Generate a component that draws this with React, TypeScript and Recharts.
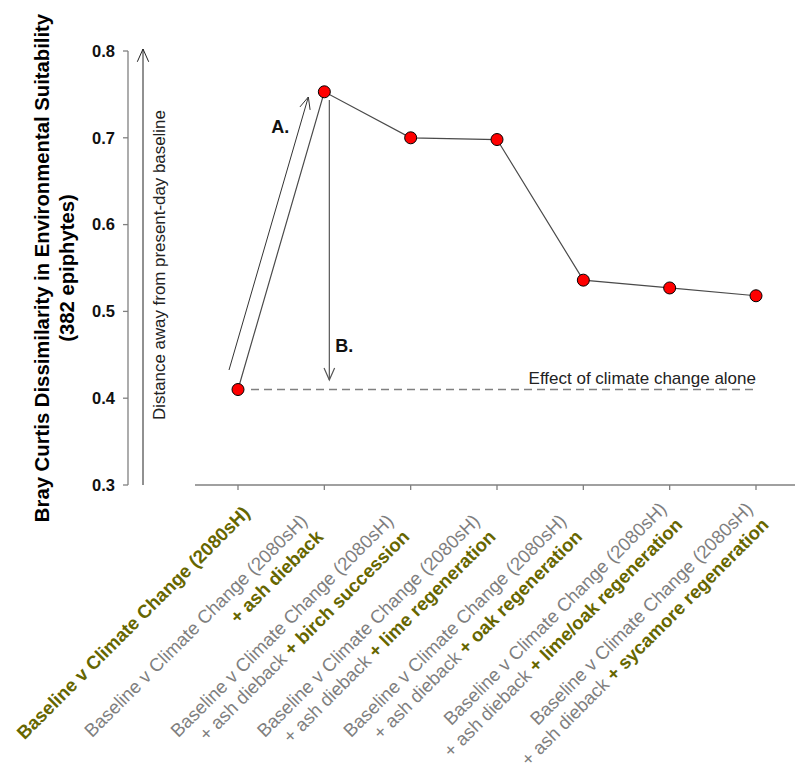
import React from "react";
import { LineChart, Line, XAxis, YAxis, ReferenceLine } from "recharts";

const categories = [
  "Baseline v Climate Change (2080sH)",
  "Baseline v Climate Change (2080sH) + ash dieback",
  "Baseline v Climate Change (2080sH) + ash dieback + birch succession",
  "Baseline v Climate Change (2080sH) + ash dieback + lime regeneration",
  "Baseline v Climate Change (2080sH) + ash dieback + oak regeneration",
  "Baseline v Climate Change (2080sH) + ash dieback + lime/oak regeneration",
  "Baseline v Climate Change (2080sH) + ash dieback + sycamore regeneration",
];
const dissimilarity = [0.41, 0.753, 0.7, 0.698, 0.536, 0.527, 0.518];
const baseLabel = "Baseline v Climate Change (2080sH)";
const ashLabel = "+ ash dieback";
const treatmentLabels = [
  "",
  "",
  "+ birch succession",
  "+ lime regeneration",
  "+ oak regeneration",
  "+ lime/oak regeneration",
  "+ sycamore regeneration",
];
const yTicks = [0.3, 0.4, 0.5, 0.6, 0.7, 0.8];
const arrowA = [0.4325, 0.747];
const arrowB = [0.7435, 0.421];

const data = categories.map((c, i) => ({ category: c, value: dissimilarity[i] }));

const FONT = "'Liberation Sans', Arial, sans-serif";
const GREY = "#7f7f7f";
const OLIVE = "#666600";
const PAD_AXIS = "a";
const MAIN_AXIS = "b";

function arrowHead(tx: number, ty: number, fx: number, fy: number, len = 14, ang = 24) {
  const dx = tx - fx;
  const dy = ty - fy;
  const d = Math.hypot(dx, dy);
  const ux = dx / d;
  const uy = dy / d;
  const a = (ang * Math.PI) / 180;
  const r = (s: number) => {
    const c = Math.cos(s * a);
    const sn = Math.sin(s * a);
    const rx = ux * c - uy * sn;
    const ry = ux * sn + uy * c;
    return `${tx - rx * len},${ty - ry * len}`;
  };
  return `${r(1)} ${tx},${ty} ${r(-1)}`;
}

function XTick(props: any) {
  const { x, y, payload } = props;
  const i = payload.index;
  const fs = 18.6;
  if (i === 0) {
    return (
      <text
        transform={`translate(${x + 13},${y + 24}) rotate(-45)`}
        textAnchor="end"
        fontFamily={FONT}
        fontSize={fs}
        fontWeight="bold"
        fill={OLIVE}
      >
        {baseLabel}
      </text>
    );
  }
  const wide = i >= 5;
  const ax = wide ? x - 2 : x - 16;
  const ay = wide ? y + 20 : y + 32;
  return (
    <text
      transform={`translate(${ax},${ay}) rotate(-45)`}
      textAnchor="end"
      fontFamily={FONT}
      fontSize={fs}
      style={{ whiteSpace: "pre" }}
    >
      <tspan x={0} y={0} fill={GREY}>
        {baseLabel}
      </tspan>
      {i === 1 ? (
        <tspan x={0} y={22.5} fill={OLIVE} fontWeight="bold">
          {ashLabel}
        </tspan>
      ) : (
        <tspan x={0} y={22.5}>
          <tspan fill={GREY}>{ashLabel + " "}</tspan>
          <tspan fill={OLIVE} fontWeight="bold">
            {treatmentLabels[i]}
          </tspan>
        </tspan>
      )}
    </text>
  );
}

function MainYLabel(props: any) {
  const vb = props.viewBox || {};
  const cy = vb.y + vb.height / 2;
  return (
    <g fontFamily={FONT} fontWeight="bold" fontSize={20.3} fill="#000">
      <text x={42} y={cy} transform={`rotate(-90, 42, ${cy})`} textAnchor="middle" dominantBaseline="central">
        Bray Curtis Dissimilarity in Environmental Suitability
      </text>
      <text x={67} y={cy} transform={`rotate(-90, 67, ${cy})`} textAnchor="middle" dominantBaseline="central">
        (382 epiphytes)
      </text>
    </g>
  );
}

function PadYLabel(props: any) {
  const vb = props.viewBox || {};
  const ax = vb.x + 15;
  const top = vb.y - 2;
  const bottom = vb.y + vb.height;
  const tx = vb.x + 31;
  const ty = vb.y + vb.height / 2 - 3;
  return (
    <g>
      <line x1={ax} y1={bottom} x2={ax} y2={top} stroke="#222" strokeWidth={1} />
      <polyline points={arrowHead(ax, top, ax, bottom)} fill="none" stroke="#222" strokeWidth={1} />
      <text
        x={tx}
        y={ty}
        transform={`rotate(-90, ${tx}, ${ty})`}
        textAnchor="middle"
        dominantBaseline="central"
        fontFamily={FONT}
        fontSize={16.9}
        fill="#222"
      >
        Distance away from present-day baseline
      </text>
    </g>
  );
}

function ClimateAloneShape(props: any) {
  const { x1, y1, x2 } = props;
  return (
    <g>
      <line x1={x1 + 13} y1={y1} x2={x2} y2={y1} stroke="#808080" strokeWidth={1.5} strokeDasharray="8 5" />
      <text x={x2} y={y1 - 6} textAnchor="end" fontFamily={FONT} fontSize={17} fill="#222">
        Effect of climate change alone
      </text>
    </g>
  );
}

function ArrowAShape(props: any) {
  const { x1, y1, x2, y2 } = props;
  const sx = x1 - 9;
  const ex = x2 - 16;
  return (
    <g>
      <line x1={sx} y1={y1} x2={ex} y2={y2} stroke="#333" strokeWidth={1} />
      <polyline points={arrowHead(ex, y2, sx, y1, 13, 24)} fill="none" stroke="#333" strokeWidth={1} />
      <text x={ex - 19} y={y2 + 36} textAnchor="end" fontFamily={FONT} fontSize={18} fontWeight="bold" fill="#111">
        A.
      </text>
    </g>
  );
}

function ArrowBShape(props: any) {
  const { x1, y1, x2, y2 } = props;
  const sx = x1 + 5;
  const ex = x2 + 5;
  return (
    <g>
      <line x1={sx} y1={y1} x2={ex} y2={y2} stroke="#555" strokeWidth={1.2} />
      <polyline points={arrowHead(ex, y2, sx, y1, 13, 24)} fill="none" stroke="#555" strokeWidth={1.2} />
      <text x={ex + 6} y={y2 - 28} fontFamily={FONT} fontSize={18} fontWeight="bold" fill="#111">
        B.
      </text>
    </g>
  );
}

export default function App() {
  return (
    <div style={{ position: "absolute", left: 0, top: 0, width: 795, height: 769, overflow: "hidden", background: "#fff" }}>
      <LineChart width={800} height={769} data={data} margin={{ top: 51, right: 1, bottom: 0, left: 0 }}>
        <YAxis
          yAxisId={PAD_AXIS}
          orientation="left"
          width={67}
          domain={[0.3, 0.8]}
          type="number"
          axisLine={false}
          tickLine={false}
          tick={false}
          label={<PadYLabel />}
        />
        <YAxis
          yAxisId={MAIN_AXIS}
          orientation="left"
          width={128}
          type="number"
          domain={[0.3, 0.8]}
          ticks={yTicks}
          interval={0}
          tickFormatter={(v: number) => v.toFixed(1)}
          axisLine={{ stroke: "#808080", strokeWidth: 1.3 }}
          tickLine={{ stroke: "#808080", strokeWidth: 1.3 }}
          tickSize={5}
          tickMargin={8}
          tick={{ fill: "#111", fontSize: 16.5, fontWeight: "bold", fontFamily: FONT }}
          label={<MainYLabel />}
        />
        <XAxis
          dataKey="category"
          type="category"
          height={284}
          interval={0}
          padding={{ left: 43, right: 43 }}
          axisLine={{ stroke: "#808080", strokeWidth: 1.5 }}
          tickLine={{ stroke: "#808080", strokeWidth: 1.3 }}
          tickSize={5}
          tickMargin={0}
          tick={(p: any) => <XTick {...p} />}
        />
        <ReferenceLine
          yAxisId={MAIN_AXIS}
          ifOverflow="visible"
          segment={[
            { x: categories[0], y: dissimilarity[0] },
            { x: categories[6], y: dissimilarity[0] },
          ]}
          shape={(p: any) => <ClimateAloneShape {...p} />}
        />
        <ReferenceLine
          yAxisId={MAIN_AXIS}
          ifOverflow="visible"
          segment={[
            { x: categories[0], y: arrowA[0] },
            { x: categories[1], y: arrowA[1] },
          ]}
          shape={(p: any) => <ArrowAShape {...p} />}
        />
        <ReferenceLine
          yAxisId={MAIN_AXIS}
          ifOverflow="visible"
          segment={[
            { x: categories[1], y: arrowB[0] },
            { x: categories[1], y: arrowB[1] },
          ]}
          shape={(p: any) => <ArrowBShape {...p} />}
        />
        <Line
          yAxisId={MAIN_AXIS}
          type="linear"
          dataKey="value"
          stroke="#4a4a4a"
          strokeWidth={1.2}
          dot={{ r: 6, fill: "#ff0000", stroke: "#000", strokeWidth: 1 }}
          isAnimationActive={false}
        />
      </LineChart>
    </div>
  );
}
